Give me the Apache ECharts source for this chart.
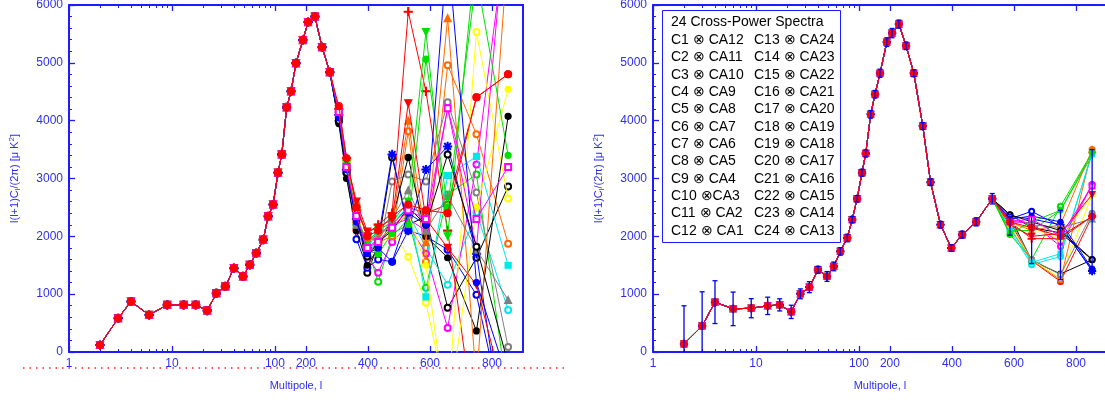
<!DOCTYPE html>
<html><head><meta charset="utf-8">
<script src="https://cdn.jsdelivr.net/npm/echarts@6/dist/echarts.min.js"></script>
<style>html,body{margin:0;padding:0;background:#fff}#c{width:1105px;height:402px}</style>
</head><body><div id="c"></div>
<script>
// ---------------- DATA ----------------
const ell = [2,3,4,6,9,13,17,22,27,33,40,49,57,66,77,86,96,110,122,138,152,168,190,207,229,252,277,306,331,363,398,433,478,530,587,657,750,852];
// left panel: shared values for l <= 277
const leftBase = [121,584,873,641,815,815,815,716,1017,1133,1450,1306,1508,1711,1942,2346,2549,3100,3416,4230,4508,4994,5393,5705,5800,5271,4838];
// left panel per-series values for l = 306 ... 852
const leftTails = [
  [4000,3150,2500,1370,1850,3364,2200,2341,763,1630,2860],
  [4150,3250,2100,1900,2050,2200,2500,2400,2550,4404,4803],
  [4100,3200,2200,1800,1214,2000,2300,1110,2722,3069,-800],
  [4050,3100,1950,1456,1600,1560,2100,2000,1770,988,-1500],
  [4150,3250,2400,1750,1900,2100,2400,1800,1162,2410,728],
  [4100,3200,2300,1650,1370,1900,2200,1700,416,3243,7500],
  [4200,3300,2450,1700,1800,2100,1647,850,-900,5531,2653],
  [4150,3300,2550,2000,1900,2000,3815,1560,4960,3763,1873],
  [4000,3100,2200,1750,1700,2948,3069,2948,4317,2757,87],
  [3950,3000,2100,1500,1800,2300,3364,2000,1630,364,4075],
  [4200,3350,2450,2050,2200,2400,5884,4508,2100,-1500,-2500],
  [4150,3250,2350,1900,2100,2250,2600,5531,2000,7000,8000],
  [4100,3150,2300,1800,1950,3416,2100,3156,3555,1700,-2000],
  [4150,3200,2350,1850,2000,2250,2500,954,3052,3381,1500],
  [4100,3200,2250,1700,1900,2200,2300,2100,4213,1800,8000],
  [4200,3300,2400,1800,1950,2150,2400,1500,-1200,2500,4543],
  [4150,3250,2300,1900,2000,2200,4000,1900,5774,-500,7000],
  [4050,3150,2200,1800,1950,2300,2800,2100,2700,1770,900],
  [4000,3100,2300,1650,1900,2100,2500,2200,3416,1821,-200],
  [4150,3300,2600,2080,2150,2300,4300,2300,1800,1162,-1000],
  [4100,3250,2350,1850,1700,2050,2200,5063,2500,6500,3400],
  [4050,3150,2250,1700,1800,1560,2400,2200,7000,1200,-500],
  [4150,3200,2350,1800,1900,2150,2450,2300,4213,2300,3200],
  [4250,3350,2500,2000,2100,2350,2550,2450,2400,4404,4803]
];
// right panel: shared values for l <= 530
const rightBase = [139,451,862,746,757,798,815,694,1006,1121,1422,1306,1480,1740,1971,2289,2650,3100,3433,4110,4457,4820,5358,5514,5670,5294,4820,3907,2936,2202,1798,2029,2250,2650];
// right panel per-series values for l = 587, 657, 750, 852
const rightTails = [
  [2350,1580,1350,1595],[2250,1580,1219,2346],[2030,1600,2520,3450],[2300,2433,2173,1422],
  [2100,1510,1652,3450],[2250,2235,1826,2896],[2200,1600,1280,2722],[2150,1580,1250,3503],
  [2300,1600,1335,2400],[2375,2150,2060,1595],[2250,1960,1960,2346],[2100,2100,2450,3400],
  [2350,2300,2200,1400],[2150,1550,1700,3420],[2300,2200,1900,2900],[2200,2150,1942,2722],
  [2250,2100,2200,3503],[2350,2200,2150,2300],[2375,2250,2100,1600],[2200,2000,2050,2722],
  [2050,2250,2450,3450],[2300,2350,2250,1440],[2250,2300,2000,2870],[2250,2150,2000,2346]
];
// error bars (right panel): half widths, and centres for l >= 587
const errHalf = [660,590,370,290,165,150,105,115,85,95,60,85,75,65,65,55,55,60,60,65,65,70,75,80,70,65,60,60,55,55,55,60,70,90,180,420,600,1050];
const errTailCentre = [2200,1950,1850,2450];

const seriesColors = ['#000000','#ff0000','#00e000','#0000ff','#00e8e8','#ff00ff','#ffff00','#ff6a00','#808080',
  '#000000','#ff0000','#00e000','#0000ff','#00e8e8','#ff00ff','#ffff00','#ff6a00','#808080',
  '#000000','#ff0000','#00e000','#0000ff','#ff00ff','#ff0000'];
const seriesMarks = ['o','o','o','o','o','o','o','o','o','dot','plus','tdown','star','sq','dot','dot','tup','tup','o','tdown','dot','dot','osq','ored'];

const majorTickL = [1,10,100,200,400,600,800];
const majorTickText = ['1','10','100','200','400','600','800'];
const minorTickL = [2,3,4,5,6,7,8,9,20,30,40,50,60,70,80,90];
const xMaxL = 900;
const yMin = 0, yMax = 6000, yStep = 1000;

const legendTitle = '24 Cross-Power Spectra';
const legendCol1 = ['C1 ⊗ CA12','C2 ⊗ CA11','C3 ⊗ CA10','C4 ⊗ CA9','C5 ⊗ CA8','C6 ⊗ CA7','C7 ⊗ CA6','C8 ⊗ CA5','C9 ⊗ CA4','C10 ⊗CA3','C11 ⊗ CA2','C12 ⊗ CA1'];
const legendCol2 = ['C13 ⊗ CA24','C14 ⊗ CA23','C15 ⊗ CA22','C16 ⊗ CA21','C17 ⊗ CA20','C18 ⊗ CA19','C19 ⊗ CA18','C20 ⊗ CA17','C21 ⊗ CA16','C22 ⊗ CA15','C23 ⊗ CA14','C24 ⊗ CA13'];

// ---------------- SCALE (log below 100, linear above) ----------------
const K = 332;
function tx(l){ return l <= 100 ? Math.log10(l) : 2 + (l - 100) / K; }
const xMax = tx(xMaxL);
const majorT = majorTickL.map(tx);
const minorT = minorTickL.map(tx);

const AX = '#1c1cff';
const LBL = '#2e2ef2';
const FONT = '"Liberation Sans", Arial, sans-serif';

const PLUS = 'path://M4.4,0H5.6V4.4H10V5.6H5.6V10H4.4V5.6H0V4.4H4.4Z';
const STAR = 'path://M4.5,0H5.5V3.8L8.3,1L9,1.7L6.2,4.5H10V5.5H6.2L9,8.3L8.3,9L5.5,6.2V10H4.5V6.2L1.7,9L1,8.3L3.8,5.5H0V4.5H3.8L1,1.7L1.7,1L4.5,3.8Z';
function markStyle(m){
  switch(m){
    case 'o': return {symbol:'emptyCircle', rot:0, size:6};
    case 'ored': return {symbol:'circle', rot:0, size:7};
    case 'dot': return {symbol:'circle', rot:0, size:6};
    case 'plus': return {symbol:PLUS, rot:0, size:8};
    case 'star': return {symbol:STAR, rot:0, size:8};
    case 'tdown': return {symbol:'triangle', rot:180, size:7};
    case 'tup': return {symbol:'triangle', rot:0, size:7};
    case 'sq': return {symbol:'rect', rot:0, size:6};
    case 'osq': return {symbol:'emptyRect', rot:0, size:6};
  }
}

// ---------------- AXES ----------------
const xAxes = [], yAxes = [];
[0,1].forEach(g => {
  const base = {gridIndex:g, type:'value', min:0, max:xMax, splitLine:{show:false}};
  xAxes.push(Object.assign({}, base, {
    position:'bottom',
    axisLine:{show:true, onZero:false, lineStyle:{color:AX, width:2}},
    axisTick:{show:true, inside:true, length:6, customValues:majorT, lineStyle:{color:AX, width:1.3}},
    axisLabel:{show:true, customValues:majorT, margin:6, color:LBL, fontSize:12, fontFamily:FONT,
      formatter: v => { let best=0; majorT.forEach((t,i)=>{ if(Math.abs(t-v)<Math.abs(majorT[best]-v)) best=i; }); return majorTickText[best]; }},
    name:'Multipole, l', nameLocation:'middle', nameGap:28,
    nameTextStyle:{color:LBL, fontSize:11, fontFamily:FONT}
  }));
  xAxes.push(Object.assign({}, base, {
    position:'bottom', axisLine:{show:false, onZero:false},
    axisTick:{show:true, inside:true, length:3, customValues:minorT, lineStyle:{color:AX, width:1}},
    axisLabel:{show:false}
  }));
  xAxes.push(Object.assign({}, base, {
    position:'top', axisLine:{show:true, onZero:false, lineStyle:{color:AX, width:2}},
    axisTick:{show:true, inside:true, length:6, customValues:majorT, lineStyle:{color:AX, width:1.3}},
    axisLabel:{show:false}
  }));
  xAxes.push(Object.assign({}, base, {
    position:'top', axisLine:{show:false, onZero:false},
    axisTick:{show:true, inside:true, length:3, customValues:minorT, lineStyle:{color:AX, width:1}},
    axisLabel:{show:false}
  }));
  yAxes.push({
    gridIndex:g, type:'value', position:'left', min:yMin, max:yMax, interval:yStep,
    splitLine:{show:false},
    axisLine:{show:true, onZero:false, lineStyle:{color:AX, width:2}},
    axisTick:{show:true, inside:true, length:6, lineStyle:{color:AX, width:1.3}},
    minorTick:{show:true, splitNumber:5, length:3, lineStyle:{color:AX, width:1}},
    axisLabel:{color:LBL, fontSize:12, fontFamily:FONT, margin:6, formatter: v => String(v)},
    name:'l(l+1)C{s|l}/(2π) [μ K{p|2}]', nameLocation:'middle', nameGap:47, nameRotate:90,
    nameTextStyle:{color:LBL, fontSize:11, fontFamily:FONT, lineHeight:14,
      rich:{s:{color:LBL, fontSize:8, fontFamily:FONT, verticalAlign:'bottom', lineHeight:14},
            p:{color:LBL, fontSize:8, fontFamily:FONT, verticalAlign:'top', lineHeight:14}}}
  });
  yAxes.push({
    gridIndex:g, type:'value', position:'right', min:yMin, max:yMax,
    splitLine:{show:false},
    axisLine:{show:true, onZero:false, lineStyle:{color:AX, width:2}},
    axisTick:{show:false}, axisLabel:{show:false}
  });
});

// ---------------- SERIES ----------------
const series = [];
seriesColors.forEach((c, s) => {
  const ms = markStyle(seriesMarks[s]);
  const lv = leftBase.concat(leftTails[s]);
  series.push({
    type:'line', xAxisIndex:0, yAxisIndex:0, clip:true, animation:false,
    data: ell.map((l,i) => [tx(l), lv[i]]),
    symbol:ms.symbol, symbolRotate:ms.rot, symbolSize:ms.size, showAllSymbol:true,
    lineStyle:{color:c, width:1}, itemStyle:{color:c, borderColor:c, borderWidth:1.2},
    z: 2 + s*0.01
  });
  const rv = rightBase.concat(rightTails[s]);
  series.push({
    type:'line', xAxisIndex:4, yAxisIndex:2, clip:true, animation:false,
    data: ell.map((l,i) => [tx(l), rv[i]]),
    symbol:ms.symbol, symbolRotate:ms.rot, symbolSize:ms.size-1, showAllSymbol:true,
    lineStyle:{color:c, width:1}, itemStyle:{color:c, borderColor:c, borderWidth:1.2},
    z: 2 + s*0.01
  });
});
const errCentre = rightBase.concat(errTailCentre);
series.push({
  type:'custom', xAxisIndex:4, yAxisIndex:2, clip:true, animation:false, z:5,
  data: ell.map((l,i) => [tx(l), errCentre[i]-errHalf[i], errCentre[i]+errHalf[i]]),
  encode:{x:0, y:[1,2]},
  renderItem(params, api){
    const x = api.value(0);
    const a = api.coord([x, api.value(1)]), b = api.coord([x, api.value(2)]);
    const w = 2.5, st = {stroke:'#0000ee', lineWidth:1.3};
    return {type:'group', children:[
      {type:'line', shape:{x1:a[0], y1:a[1], x2:b[0], y2:b[1]}, style:st},
      {type:'line', shape:{x1:a[0]-w, y1:a[1], x2:a[0]+w, y2:a[1]}, style:st},
      {type:'line', shape:{x1:b[0]-w, y1:b[1], x2:b[0]+w, y2:b[1]}, style:st}
    ]};
  }
});

// ---------------- GRAPHIC (legend box + dotted line) ----------------
const graphic = [
  {type:'line', shape:{x1:23, y1:368, x2:565, y2:368}, style:{stroke:'#ff2020', lineWidth:1.3, lineDash:[1.5,5]}, z:10},
  {type:'rect', shape:{x:662.5, y:10.5, width:178, height:232}, style:{fill:'#fff', stroke:AX, lineWidth:1}, z:20},
  {type:'text', x:671, y:22, style:{text:legendTitle, font:'14px '+FONT, fill:'#000', textVerticalAlign:'middle', verticalAlign:'middle'}, z:21}
];
legendCol1.forEach((t,i) => graphic.push({type:'text', x:671, y:40 + i*17.36, style:{text:t, font:'14px '+FONT, fill:'#000', textVerticalAlign:'middle', verticalAlign:'middle'}, z:21}));
legendCol2.forEach((t,i) => graphic.push({type:'text', x:754, y:40 + i*17.36, style:{text:t, font:'14px '+FONT, fill:'#000', textVerticalAlign:'middle', verticalAlign:'middle'}, z:21}));

const chart = echarts.init(document.getElementById('c'), null, {renderer:'canvas'});
chart.setOption({
  animation:false,
  backgroundColor:'#ffffff',
  grid:[
    {left:69, top:5, width:454, height:347, outerBoundsMode:'none', containLabel:false},
    {left:653, top:5, width:454, height:347, outerBoundsMode:'none', containLabel:false}
  ],
  xAxis:xAxes, yAxis:yAxes, series:series, graphic:graphic
});
</script></body></html>
